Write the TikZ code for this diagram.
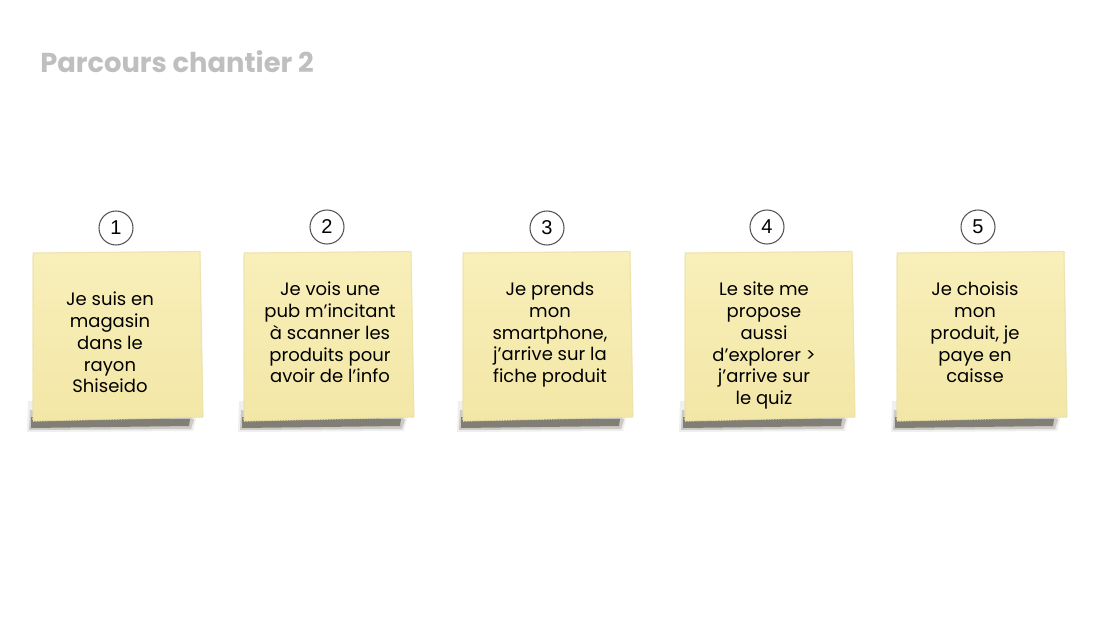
\documentclass[tikz,border=0pt]{standalone}
\usepackage{fontspec}
\setmainfont{Poppins}
\newfontfamily\ringfont{Liberation Sans}
\usetikzlibrary{decorations.pathmorphing}

\definecolor{noteTop}{RGB}{248,239,186}
\definecolor{noteBot}{RGB}{243,231,166}
\definecolor{noteEdge}{RGB}{236,224,165}
\definecolor{shadowDark}{RGB}{40,36,20}
\definecolor{titleGray}{RGB}{191,191,191}
\definecolor{ringGray}{RGB}{85,85,85}

\tikzset{
  stickynote/.style={top color=noteTop, bottom color=noteBot,
    postaction={draw=noteEdge, line width=0.5pt, decorate,
      decoration={zigzag, segment length=2pt, amplitude=0.35pt}}},
  numring/.style={circle, draw=ringGray, fill=white, line width=0.8pt,
    minimum size=25.5pt, inner sep=0, font=\ringfont\fontsize{15}{15}\selectfont},
  notetext/.style={inner sep=0, anchor=north, align=center,
    font=\fontsize{13.5}{16.3}\selectfont}
}

% one sticky note, top left corner at (#1,#2), with its shadow
\newcommand{\postit}[2]{%
  \begin{scope}[shift={(#1,#2)}]
    \fill[shadowDark,opacity=0.07] (-5,148) -- (0,148) -- (160,161) -- (163,166) -- (160,178) -- (-6,179) -- cycle;
    \fill[shadowDark,opacity=0.18] (-3,157) -- (0,157) -- (158,164) -- (161,167) -- (158,176) -- (-4,177) -- cycle;
    \fill[shadowDark,opacity=0.45] (-2,164) -- (157,166) -- (156,173) -- (-2,175) -- cycle;
    \path[stickynote] (0,0) -- (167,-1.5) -- (170,164) -- (0,168) -- cycle;
  \end{scope}}

\begin{document}
\begin{tikzpicture}[x=0.75pt,y=-0.75pt]
    \useasboundingbox[fill=white] (0,0) rectangle (1103,621);

    \node[anchor=base west, inner sep=0, text=titleGray,
      font=\bfseries\fontsize{20.5}{20.5}\selectfont] (title) at (40,72) {Parcours chantier 2};

    \postit{33}{253}
    \postit{244}{253}
    \postit{463}{253}
    \postit{685}{253}
    \postit{897}{253}

    \node[numring] (ring1) at (116,228) {1};
    \node[numring] (ring2) at (327,227) {2};
    \node[numring] (ring3) at (547,228) {3};
    \node[numring] (ring4) at (767,227) {4};
    \node[numring] (ring5) at (978,227) {5};

    \node[notetext] (text1) at (110,292) {Je suis en\\magasin\\dans le\\rayon\\Shiseido};
    \node[notetext] (text2) at (330,282) {Je vois une\\pub m’incitant\\à scanner les\\produits pour\\avoir de l’info};
    \node[notetext] (text3) at (550,282) {Je prends\\mon\\smartphone,\\j’arrive sur la\\fiche produit};
    \node[notetext] (text4) at (764,282) {Le site me\\propose\\aussi\\d’explorer >\\j’arrive sur\\le quiz};
    \node[notetext] (text5) at (975,282) {Je choisis\\mon\\produit, je\\paye en\\caisse};
  \end{tikzpicture}
\end{document}
